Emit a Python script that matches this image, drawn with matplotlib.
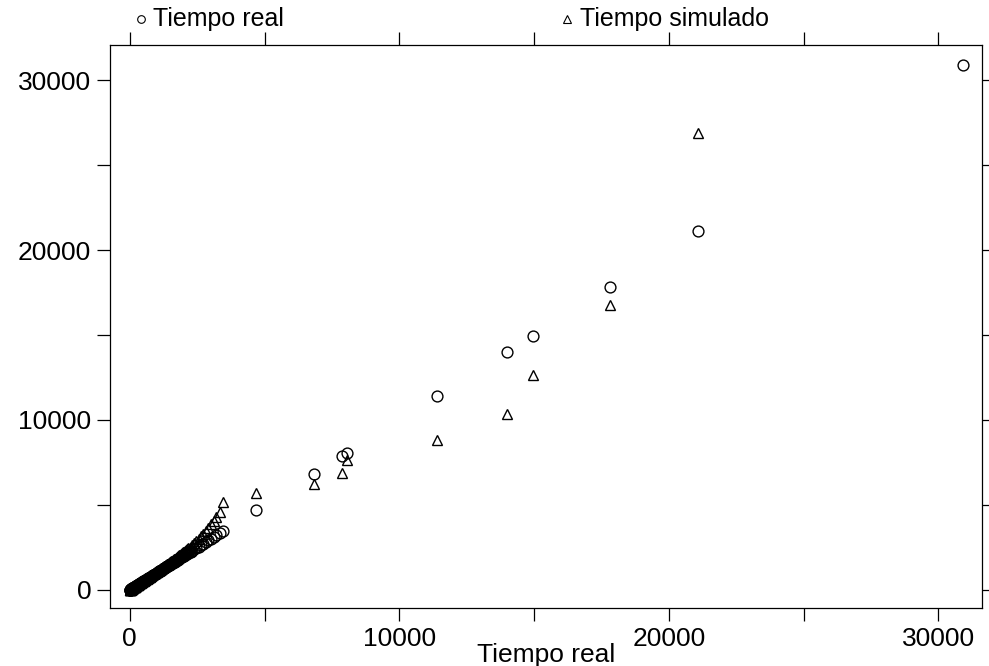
import matplotlib
matplotlib.use("Agg")
import matplotlib.pyplot as plt
from matplotlib.lines import Line2D
import numpy as np

plt.rcParams['font.family'] = ['Liberation Sans', 'DejaVu Sans']

# Tiempo real (x) and tiempo simulado for each run
tiempo_real = [
    3, 8, 15, 21, 27, 34, 40, 47, 55, 61, 68, 76, 83, 91, 98, 106, 115, 123,
    131, 140, 149, 157, 166, 175, 185, 194, 204, 213, 223, 234, 244, 255, 266,
    277, 288, 300, 312, 324, 336, 349, 362, 375, 388, 402, 416, 430, 444, 459,
    474, 489,
    505, 521, 537, 553, 570, 587, 604, 622, 640, 658, 676, 695, 714, 733, 753,
    773, 793, 814, 835, 856, 878, 900, 922, 945, 968, 991,
    1015, 1039, 1063, 1088, 1113, 1139, 1165, 1191, 1218, 1245, 1273, 1301,
    1329, 1358, 1387, 1417, 1447, 1477, 1508, 1539, 1571, 1603, 1636, 1669,
    1702, 1736, 1770, 1805, 1840, 1876, 1912, 1948, 1985, 2022, 2060, 2098,
    2137, 2176, 2216, 2256,
    2310, 2390, 2470, 2555, 2640, 2730, 2820, 2915, 3010, 3110, 3215, 3330,
    3470,
    4700, 6850, 7870, 8050, 11400, 14000, 14950, 17800, 21100, 30900,
]
tiempo_simulado = [
    3, 8, 16, 22, 28, 36, 42, 49, 58, 64, 71, 80, 87, 96, 103, 111, 121, 129,
    138, 147, 157, 165, 175, 184, 195, 204, 215, 224, 235, 246, 257, 268, 280,
    292, 304, 316, 329, 342, 355, 369, 383, 397, 411, 426, 441, 456, 471, 487,
    503, 519,
    536, 553, 571, 588, 607, 625, 644, 664, 684, 704, 724, 745, 766, 787, 809,
    831, 853, 876, 899, 923, 947, 971, 996, 1021, 1047, 1072,
    1099, 1126, 1153, 1181, 1209, 1238, 1267, 1296, 1326, 1356, 1387, 1419,
    1450, 1483, 1516, 1550, 1584, 1618, 1654, 1690, 1726, 1763, 1801, 1839,
    1878, 1917, 1957, 1998, 2039, 2081, 2124, 2167, 2211, 2256, 2302, 2349,
    2397, 2446, 2496, 2547,
    2620, 2740, 2870, 3010, 3160, 3320, 3490, 3670, 3860, 4070, 4300, 4600,
    5180,
    5700, 6250, 6880, 7650, 8820, 10350, 12650, 16770, 26880, np.nan,
]

x_ticks = [0, 5000, 10000, 15000, 20000, 25000, 30000]
x_labels = ['0', '', '10000', '', '20000', '', '30000']
y_ticks = [0, 5000, 10000, 15000, 20000, 25000, 30000]
y_labels = ['0', '', '10000', '', '20000', '', '30000']

W, H = 989, 666
fig = plt.figure(figsize=(W / 100, H / 100), dpi=100)
ax = fig.add_axes([110 / W, (H - 608) / H, 872 / W, 563 / H])

ms = 7.8
ax.plot(tiempo_real, tiempo_real, linestyle='none', marker='o', ms=ms,
        mfc='none', mec='black', mew=1.0)
ax.plot(tiempo_real, tiempo_simulado, linestyle='none', marker='^', ms=ms,
        mfc='none', mec='black', mew=1.0)

ax.set_xlim(-735, 31620)
ax.set_ylim(-1060, 32060)

ax.set_xticks(x_ticks)
ax.set_xticklabels(x_labels)
ax.set_yticks(y_ticks)
ax.set_yticklabels(y_labels)
ax.tick_params(direction='out', length=9.5, width=0.9, labelsize=19,
               top=True, right=True, labeltop=False, labelright=False,
               pad=4, colors='black')
for sp in ax.spines.values():
    sp.set_linewidth(0.9)
    sp.set_color('black')

# Axis title placed just under the tick labels
fig.text(546 / W, 1 - 662 / H, 'Tiempo real', fontsize=19, ha='center',
         va='baseline')

# Key above the panel
fig.add_artist(Line2D([141 / W], [1 - 19 / H], marker='o', ms=5.5,
                      mfc='none', mec='black', mew=0.8, linestyle='none'))
fig.text(153 / W, 1 - 19 / H, 'Tiempo real', fontsize=18, va='center',
         ha='left')
fig.add_artist(Line2D([567 / W], [1 - 19 / H], marker='^', ms=5.5,
                      mfc='none', mec='black', mew=0.8, linestyle='none'))
fig.text(580 / W, 1 - 19 / H, 'Tiempo simulado', fontsize=18, va='center',
         ha='left')

fig.savefig('out.png', dpi=100)
